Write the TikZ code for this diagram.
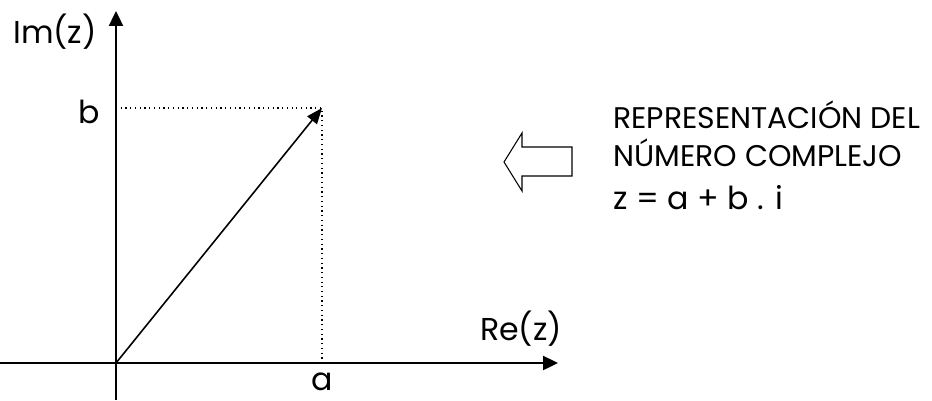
\documentclass[tikz,border=0pt]{standalone}
\usepackage{fontspec}
\setmainfont{Poppins}
\usepackage{tikz}
\usetikzlibrary{arrows.meta, positioning}

\begin{document}
\begin{tikzpicture}[
    x=0.02cm, y=-0.02cm,
    axis/.style={draw=black, line width=1.1pt, -{Triangle[length=8.5pt, width=8pt]}},
    vector/.style={draw=black, line width=0.9pt, -{Triangle[length=9pt, width=7pt]}},
    guide/.style={draw=black, line width=0.7pt, dotted},
    lbl/.style={font=\fontsize{18}{22}\selectfont, inner sep=0pt, anchor=base},
    note/.style={font=\fontsize{17}{21}\selectfont, inner sep=0pt, anchor=base west}
]
\useasboundingbox (0,0) rectangle (932,400);

\coordinate (O) at (116,363);
\coordinate (xs) at (0,363);
\coordinate (xe) at (558,363);
\coordinate (ys) at (116,400);
\coordinate (ye) at (116,11);
\coordinate (P) at (322,108);
\coordinate (Px) at (322,363);
\coordinate (Py) at (116,108);

% ejes
\draw[axis] (xs) -- (xe);
\draw[axis] (ys) -- (ye);

% proyecciones
\draw[guide] (Py) -- (P) -- (Px);
\draw[vector] (O) -- (P);

\node[lbl] (im) at (55,43) {Im(z)};
\node[lbl] (re) at (521,340) {Re(z)};
\node[lbl] (b) at (89,123) {b};
\node[lbl] (a) at (322,390) {a};

% flecha hueca
\draw[line width=0.6pt] (504,162) -- (522,133) -- (522,147) -- (572,147)
    -- (572,176) -- (522,176) -- (522,191) -- cycle;

\node[note] (line1) at (613,128) {REPRESENTACIÓN DEL};
\node[note] (line2) at (613,166) {NÚMERO COMPLEJO};
\node[note, font=\fontsize{18}{22}\selectfont] (eq) at (613,209) {z = a + b . i};
\end{tikzpicture}
\end{document}
